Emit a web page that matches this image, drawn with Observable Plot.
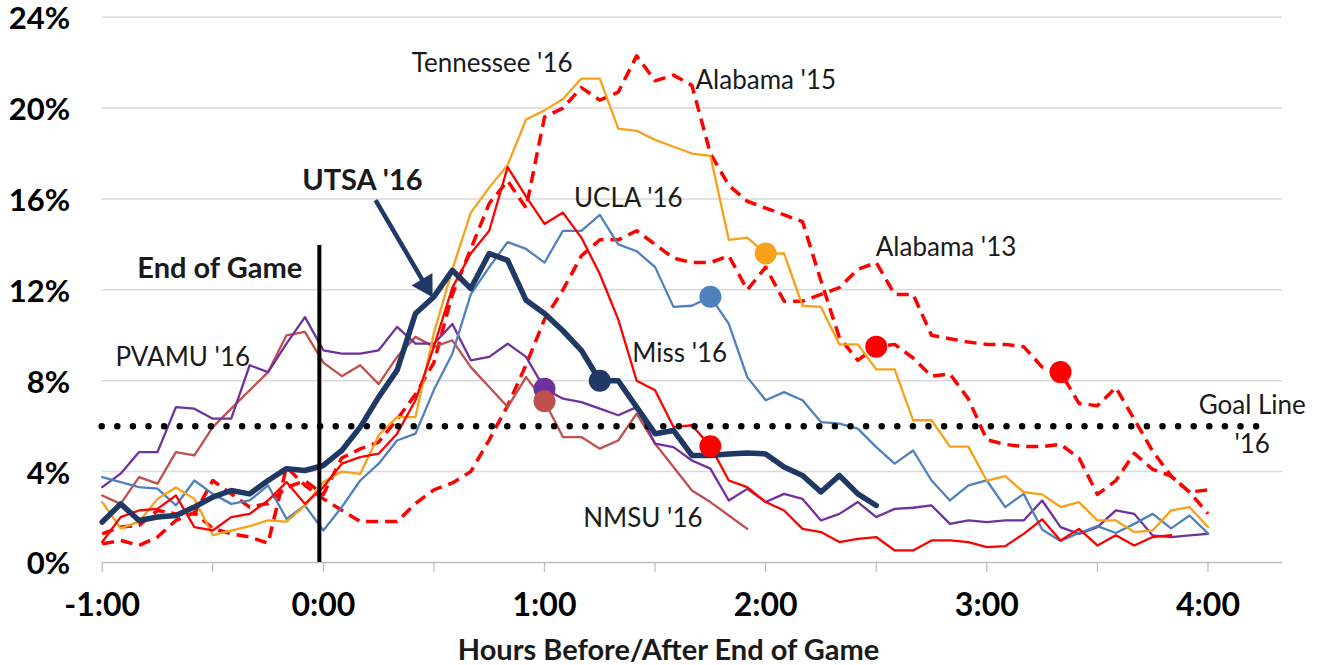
<!DOCTYPE html>
<html>
<head>
<meta charset="utf-8">
<script src="https://cdn.jsdelivr.net/npm/d3@7"></script>
<script src="https://cdn.jsdelivr.net/npm/@observablehq/plot@0.6"></script>
<style>
  html, body { margin: 0; padding: 0; background: #fff; }
  #chart svg { display: block; overflow: visible; }
</style>
</head>
<body>
<div id="chart"></div>
<script>
// ---- data: minutes relative to end of game (5-minute readings) ----
const minutes = [-60,-55,-50,-45,-40,-35,-30,-25,-20,-15,-10,-5,0,5,10,15,20,25,30,35,40,45,50,55,60,65,70,75,80,85,90,95,100,105,110,115,120,125,130,135,140,145,150,155,160,165,170,175,180,185,190,195,200,205,210,215,220,225,230,235,240];

// percentage values per team (one value per 5-minute step, starting at -1:00)
const utsa16 = [1.78,2.58,1.85,2.0,2.07,2.44,2.88,3.17,3.02,3.61,4.13,4.05,4.27,4.93,5.96,7.28,8.46,10.96,11.7,12.86,12.06,13.6,13.3,11.54,10.96,10.2,9.34,8.0,8.0,6.84,5.67,5.81,4.71,4.71,4.78,4.82,4.78,4.2,3.83,3.1,3.83,3.02,2.51];
const tennessee16 = [2.66,1.5,1.8,2.8,3.3,2.8,1.2,1.4,1.6,1.85,1.8,2.5,3.54,4.0,3.9,5.6,6.4,6.4,10.1,12.9,15.4,16.5,17.5,19.5,19.9,20.4,21.3,21.3,19.1,19.0,18.6,18.3,18.0,17.9,14.2,14.3,13.6,13.6,11.3,11.25,9.6,9.6,8.5,8.5,6.26,6.26,5.1,5.1,3.6,3.8,3.1,3.0,2.44,2.66,1.85,1.85,1.34,1.41,2.29,2.44,1.56];
const alabama15 = [1.26,1.56,1.63,2.29,2.14,2.14,3.61,3.02,2.44,2.6,3.3,3.6,3.0,4.6,5.0,5.3,6.3,7.4,8.8,11.8,13.8,15.8,16.8,15.6,19.6,20.0,20.9,20.35,20.7,22.3,21.2,21.45,21.0,18.0,16.6,15.9,15.6,15.3,15.0,12.4,9.9,8.9,9.5,9.6,9.0,8.2,8.3,7.2,5.4,5.2,5.1,5.1,5.2,4.6,3.0,3.6,4.8,4.1,3.8,3.1,3.2];
const alabama13 = [0.82,0.97,0.75,1.12,1.85,2.2,1.5,1.26,1.12,0.85,4.2,3.4,2.8,2.3,1.8,1.8,1.8,2.6,3.2,3.5,4.0,5.4,6.9,8.7,10.7,12.0,13.5,14.2,14.2,14.6,14.0,13.4,13.2,13.2,13.5,12.0,13.0,11.5,11.5,11.8,12.1,12.9,13.2,11.8,11.8,10.0,9.85,9.7,9.6,9.6,9.5,8.6,8.38,7.0,6.9,7.7,6.3,4.9,3.8,3.1,2.15];
const ucla16 = [3.76,3.54,3.32,3.25,2.51,3.61,3.02,2.58,2.73,3.39,1.92,2.51,1.41,2.44,3.61,4.35,5.37,5.67,7.6,9.19,11.8,13.0,14.1,13.8,13.2,14.6,14.6,15.3,14.0,13.7,13.0,11.25,11.3,11.7,10.5,8.16,7.14,7.5,7.14,6.18,6.11,5.89,5.08,4.35,4.93,3.61,2.73,3.39,3.61,2.44,3.02,1.45,0.95,1.3,1.6,1.3,1.7,2.14,1.5,2.07,1.28];
const miss16 = [0.9,2.0,2.29,2.36,2.95,1.56,1.41,2.0,2.14,2.73,3.54,2.58,3.32,4.35,4.64,4.79,5.67,7.14,9.5,12.1,13.6,14.6,17.4,16.1,14.9,15.4,14.3,12.7,10.7,8.0,7.58,5.96,6.04,5.12,3.61,3.32,2.66,2.29,1.48,1.34,0.9,1.04,1.12,0.53,0.53,0.97,0.97,0.9,0.68,0.72,1.26,1.9,0.97,1.48,0.75,1.2,0.75,1.12,1.2];
const pvamu16 = [3.32,3.91,4.86,4.86,6.84,6.77,6.33,6.33,8.68,8.38,9.63,10.8,9.34,9.19,9.19,9.34,10.37,9.63,9.63,10.5,8.9,9.05,9.63,9.05,7.65,7.21,7.06,6.77,6.48,6.84,5.23,5.08,4.49,4.13,2.73,3.24,2.66,3.02,2.8,1.85,2.14,2.66,2.0,2.36,2.41,2.51,1.7,1.85,1.78,1.85,1.85,2.73,1.56,1.26,1.56,2.29,2.14,1.19,1.12,1.19,1.26];
const nmsu16 = [2.95,2.58,3.76,3.47,4.86,4.71,5.96,6.77,7.58,8.38,10.0,10.15,8.8,8.2,8.68,7.85,9.05,9.93,9.49,9.78,8.6,7.72,6.84,8.16,7.1,5.52,5.52,5.01,5.37,6.55,5.23,4.2,3.17,2.66,2.07,1.48];

// highlighted reading (minutes after end of game) per team
const markerMinutes = {"UTSA '16": 75, "Tennessee '16": 120, "Alabama '15": 150, "Alabama '13": 200, "UCLA '16": 105, "Miss '16": 105, "PVAMU '16": 60, "NMSU '16": 60};

const goalLine = 6;          // percent
const yTicks = [0, 4, 8, 12, 16, 20, 24];
const hourTicks = [-1, 0, 1, 2, 3, 4];
const halfHourTicks = [-1, -0.5, 0, 0.5, 1, 1.5, 2, 2.5, 3, 3.5, 4];
const axisTitle = "Hours Before/After End of Game";

// ---- styling / annotation layout (kept separate from the data) ----
const FONT = "Lato, 'Open Sans', sans-serif";
const NAVY = "#1f3864";
const series = [
  {name: "Alabama '13", values: alabama13, color: "#ff0000", width: 3.5, dash: "12,7"},
  {name: "Alabama '15", values: alabama15, color: "#ff0000", width: 3.5, dash: "12,7"},
  {name: "NMSU '16", values: nmsu16, color: "#c0504d", width: 2.3},
  {name: "PVAMU '16", values: pvamu16, color: "#7030a0", width: 2.3},
  {name: "UCLA '16", values: ucla16, color: "#4f81bd", width: 2.3},
  {name: "Tennessee '16", values: tennessee16, color: "#f7a11a", width: 2.3},
  {name: "Miss '16", values: miss16, color: "#ff0000", width: 2.3},
  {name: "UTSA '16", values: utsa16, color: NAVY, width: 5.5}
];
const markerOrder = ["Alabama '13", "Alabama '15", "Tennessee '16", "UCLA '16", "Miss '16", "PVAMU '16", "NMSU '16", "UTSA '16"];

const labels = [
  {text: "Tennessee '16", h: 0.40, v: 21.95, anchor: "start", bold: false},
  {text: "Alabama '15", h: 1.683, v: 21.2, anchor: "start", bold: false},
  {text: "UCLA '16", h: 1.133, v: 16.0, anchor: "start", bold: false},
  {text: "Alabama '13", h: 2.498, v: 13.85, anchor: "start", bold: false},
  {text: "PVAMU '16", h: -0.94, v: 9.0, anchor: "start", bold: false},
  {text: "Miss '16", h: 1.397, v: 9.2, anchor: "start", bold: false},
  {text: "NMSU '16", h: 1.175, v: 1.95, anchor: "start", bold: false},
  {text: "Goal Line", h: 4.2, v: 6.9, anchor: "middle", bold: false},
  {text: "'16", h: 4.2, v: 5.2, anchor: "middle", bold: false},
  {text: "UTSA '16", h: -0.0955, v: 16.8, anchor: "start", bold: true},
  {text: "End of Game", h: -0.0955, v: 12.95, anchor: "end", bold: true}
];
const arrowShaft = [{h1: 0.236, v1: 15.95, h2: 0.462, v2: 12.2}];
const arrowHead = [{h: 0.462, v: 12.2, angle: 149.5}];
const goalSpan = {h1: -1, h2: 4.27};
const endOfGame = {h: 0, top: 13.95};
const titlePos = {h: 1.561, v: 0};

// ---- build rows ----
const lineRows = series.map(s => ({
  ...s,
  rows: s.values.map((v, i) => ({h: minutes[i] / 60, v}))
}));
const markers = markerOrder.map(name => {
  const s = series.find(d => d.name === name);
  const m = markerMinutes[name];
  return {h: m / 60, v: s.values[minutes.indexOf(m)], color: s.color};
});

const fmtHour = d => (d < 0 ? "-" : "") + Math.abs(d) + ":00";

const marks = [
  Plot.gridY(yTicks.filter(d => d > 0), {stroke: "#d9d9d9", strokeOpacity: 1, strokeWidth: 1.5}),
  Plot.ruleY([0], {stroke: "#bfbfbf", strokeWidth: 1.5}),
  Plot.axisX(halfHourTicks, {tickSize: 10, stroke: "#bfbfbf", strokeWidth: 1.3, tickFormat: () => ""}),
  Plot.axisX(hourTicks, {tickSize: 0, tickPadding: 31, tickFormat: fmtHour, fontSize: 32, fontWeight: "bold", fill: "#000"}),
  Plot.axisY(yTicks, {tickSize: 0, tickPadding: 32, tickFormat: d => d + "%", fontSize: 31, fontWeight: "bold", fill: "#000", dy: 2})
];

for (const s of lineRows.filter(s => s.name !== "UTSA '16")) {
  marks.push(Plot.line(s.rows, {x: "h", y: "v", stroke: s.color, strokeWidth: s.width,
    strokeDasharray: s.dash, strokeLinejoin: "round", strokeLinecap: s.dash ? "butt" : "round"}));
}
marks.push(Plot.ruleY([goalLine], {x1: goalSpan.h1, x2: goalSpan.h2, stroke: "#000", strokeWidth: 6.5,
  strokeDasharray: "0,15.6", strokeLinecap: "round"}));
const utsa = lineRows.find(s => s.name === "UTSA '16");
marks.push(Plot.line(utsa.rows, {x: "h", y: "v", stroke: utsa.color, strokeWidth: utsa.width, strokeLinejoin: "round", strokeLinecap: "round"}));
marks.push(Plot.ruleX([endOfGame.h], {y1: 0, y2: endOfGame.top, stroke: "#000", strokeWidth: 4, dx: -4}));
marks.push(Plot.link(arrowShaft, {x1: "h1", y1: "v1", x2: "h2", y2: "v2", stroke: NAVY, strokeWidth: 4.5}));
marks.push(Plot.dot(arrowHead, {x: "h", y: "v", symbol: "triangle", rotate: "angle", r: 9, fill: NAVY, stroke: "none"}));
marks.push(Plot.dot(markers, {x: "h", y: "v", r: 11, fill: "color", stroke: "none"}));

for (const [anchor, bold] of [["start", false], ["middle", false], ["start", true], ["end", true]]) {
  const group = labels.filter(d => d.anchor === anchor && d.bold === bold);
  if (!group.length) continue;
  marks.push(Plot.text(group, {x: "h", y: "v", text: "text", textAnchor: anchor,
    fontSize: bold ? 29 : 26, fontWeight: bold ? "bold" : "normal", fill: "#1a1a1a"}));
}
marks.push(Plot.text([{...titlePos, text: axisTitle}], {x: "h", y: "v", text: "text", dy: 88,
  fontSize: 29, fontWeight: "bold", fill: "#1a1a1a"}));

const chart = Plot.plot({
  width: 1318,
  height: 665,
  marginLeft: 101.7,
  marginRight: 36,
  marginTop: 16.7,
  marginBottom: 103,
  x: {domain: [-1, 4.337], axis: null},
  y: {domain: [0, 24], axis: null},
  style: {fontFamily: FONT, background: "#fff", color: "#000"},
  marks
});
document.getElementById("chart").appendChild(chart);
</script>
</body>
</html>
